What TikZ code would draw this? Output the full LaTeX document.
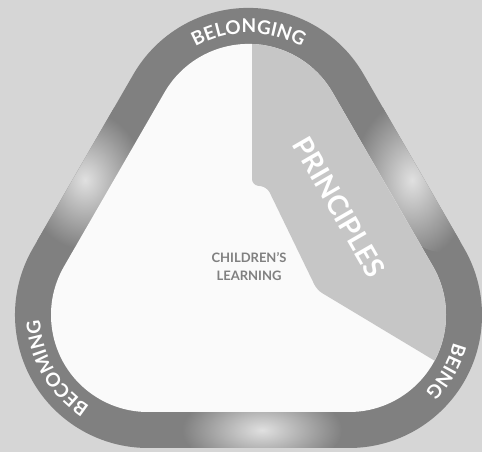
\documentclass[tikz,border=0pt]{standalone}
\usepackage{fontspec}
\setmainfont{Lato}
\usetikzlibrary{decorations.text}
\definecolor{paper}{RGB}{214,214,214}
\definecolor{ring}{RGB}{128,128,128}
\definecolor{shine}{RGB}{224,224,224}
\definecolor{learn}{RGB}{250,250,250}
\definecolor{prin}{RGB}{198,198,198}
\definecolor{inkgray}{RGB}{128,128,128}
\newcommand{\ringfont}{\color{white}\bfseries\fontsize{19}{22}\selectfont}
% rounded triangle round the three corner centres, #1 = corner radius
\tikzset{tripath/.style={insert path={(148,{137-#1}) -- ++(201,0)
  arc[start angle=-90, end angle=30, radius=#1] -- ++(120:201)
  arc[start angle=30, end angle=150, radius=#1] -- ++(240:201)
  arc[start angle=150, end angle=270, radius=#1] -- cycle}}}
\begin{document}
\begin{tikzpicture}[x=1pt, y=1pt,
    ringtext/.style={decorate, decoration={text along path, text align=center, text={|\ringfont|#1}}}]
  \fill[paper] (0,0) rectangle (482,452);
  \useasboundingbox (0,0) rectangle (482,452);
  % band with its light patches
  \fill[ring, tripath=133];
  \begin{scope}
    \clip[tripath=133];
    \foreach \x/\y/\a in {85/272/60, 412/272/-60, 262/22/0}
      \shade[inner color=shine, outer color=ring, rotate around={\a:(\x,\y)}] (\x,\y) ellipse[x radius=80, y radius=40];
  \end{scope}
  % inside
  \fill[learn, tripath=97];
  \begin{scope}
    \clip[tripath=97];
    \fill[prin, rounded corners=6] (252,470) -- (252,267) -- (267,265) -- (317,162) -- (520,40) -- (520,470) -- cycle;
  \end{scope}
  % words on the band
  \path[ringtext=BELONGING] ([shift={(150:108)}]248.5,311) arc[start angle=150, end angle=30, radius=108];
  \path[ringtext=BEING] ([shift={(15:108)}]349,137) arc[start angle=15, end angle=-75, radius=108];
  \path[ringtext=BECOMING] ([shift={(260:108)}]148,137) arc[start angle=260, end angle=160, radius=108];
  \node[white, font=\bfseries\fontsize{28}{32}\selectfont, rotate=-60] (principles) at (339,245) {PRINCIPLES};
  \node[inkgray, align=center, font=\bfseries\fontsize{13}{18}\selectfont] (learning) at (249,185) {CHILDREN'S\\LEARNING};
\end{tikzpicture}
\end{document}
